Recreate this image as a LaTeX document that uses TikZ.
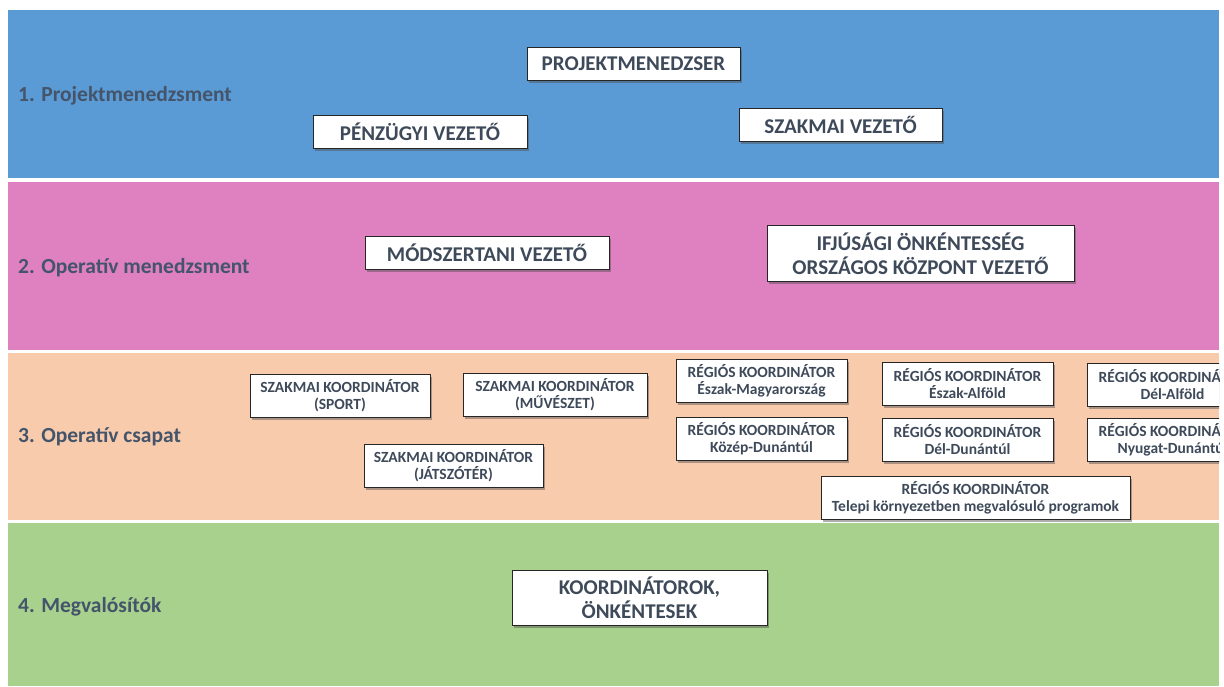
\documentclass[tikz,border=0pt]{standalone}
\usepackage{fontspec}
\setmainfont{Carlito}
\usetikzlibrary{shadows}
\definecolor{bandblue}{RGB}{91,155,213}
\definecolor{bandpink}{RGB}{223,128,193}
\definecolor{bandpeach}{RGB}{248,203,173}
\definecolor{bandgreen}{RGB}{169,209,142}
\definecolor{labelgray}{RGB}{68,84,106}
\definecolor{boxtext}{RGB}{62,74,90}

\begin{document}
\begin{tikzpicture}[x=1pt, y=-1pt,
    role/.style={draw=black!85, line width=0.8pt, fill=white, text=boxtext, inner sep=0pt, align=center,
        drop shadow={shadow xshift=1.5pt, shadow yshift=-2.5pt, opacity=0.45, fill=black!70}},
    bigrole/.style={role, font=\bfseries\fontsize{21}{24}\selectfont, minimum height=33pt},
    smallrole/.style={role, font=\bfseries\fontsize{15.5}{17}\selectfont, minimum height=43pt},
    level/.style={anchor=west, inner sep=0pt, text=labelgray, font=\bfseries\fontsize{21.5}{24}\selectfont}]
        \useasboundingbox (0, 0) rectangle (1224, 686);
        \fill[white] (0, 0) rectangle (1224, 686);

        \begin{scope}
        \clip (8, 10) rectangle (1219, 686);
        % bands
        \fill[bandblue] (8, 10) rectangle (1219, 178);
        \fill[bandpink] (8, 182) rectangle (1219, 350);
        \fill[bandpeach] (8, 353) rectangle (1219, 520);
        \fill[bandgreen] (8, 523) rectangle (1219, 686);

        \node[level] at (18, 96) (lvl1) {1. Projektmenedzsment};
        \node[level] at (18, 268) (lvl2) {2. Operatív menedzsment};
        \node[level] at (18, 437) (lvl3) {3. Operatív csapat};
        \node[level] at (18, 607) (lvl4) {4. Megvalósítók};

        % 1.
        \node[bigrole, minimum width=213pt] at (633.5, 63.5) (pm) {PROJEKTMENEDZSER};
        \node[bigrole, minimum width=214pt] at (420, 131.5) (penz) {PÉNZÜGYI VEZETŐ};
        \node[bigrole, minimum width=203pt] at (840.5, 124.5) (szakv) {SZAKMAI VEZETŐ};

        % 2.
        \node[bigrole, minimum width=244pt] at (487, 253) (modsz) {MÓDSZERTANI VEZETŐ};
        \node[bigrole, minimum width=307pt, minimum height=56pt] at (920.5, 253.5) (ifju) {IFJÚSÁGI ÖNKÉNTESSÉG\\ORSZÁGOS KÖZPONT VEZETŐ};

        % 3.
        \node[smallrole, minimum width=180pt] at (340, 396) (sport) {SZAKMAI KOORDINÁTOR\\(SPORT)};
        \node[smallrole, minimum width=184pt] at (555, 394.5) (muv) {SZAKMAI KOORDINÁTOR\\(MŰVÉSZET)};
        \node[smallrole, minimum width=179pt] at (453.5, 465.5) (jatsz) {SZAKMAI KOORDINÁTOR\\(JÁTSZÓTÉR)};
        \node[smallrole, minimum width=171pt] at (761.5, 380.5) (eszmagy) {RÉGIÓS KOORDINÁTOR\\Észak-Magyarország};
        \node[smallrole, minimum width=171pt] at (967.5, 383.5) (eszalf) {RÉGIÓS KOORDINÁTOR\\Észak-Alföld};
        \node[smallrole, minimum width=171pt] at (1172.5, 385) (delalf) {RÉGIÓS KOORDINÁTOR\\Dél-Alföld};
        \node[smallrole, minimum width=171pt] at (761.5, 438.5) (kozep) {RÉGIÓS KOORDINÁTOR\\Közép-Dunántúl};
        \node[smallrole, minimum width=171pt] at (967.5, 439.5) (deldun) {RÉGIÓS KOORDINÁTOR\\Dél-Dunántúl};
        \node[smallrole, minimum width=171pt] at (1172.5, 439.5) (nyugat) {RÉGIÓS KOORDINÁTOR\\Nyugat-Dunántúl};
        \node[smallrole, minimum width=309pt] at (975.5, 497.5) (telepi) {RÉGIÓS KOORDINÁTOR\\Telepi környezetben megvalósuló programok};

        % 4.
        \node[bigrole, minimum width=255pt, minimum height=55pt] at (639.5, 597.5) (koord) {KOORDINÁTOROK,\\ÖNKÉNTESEK};
        \end{scope}
    \end{tikzpicture}
\end{document}
